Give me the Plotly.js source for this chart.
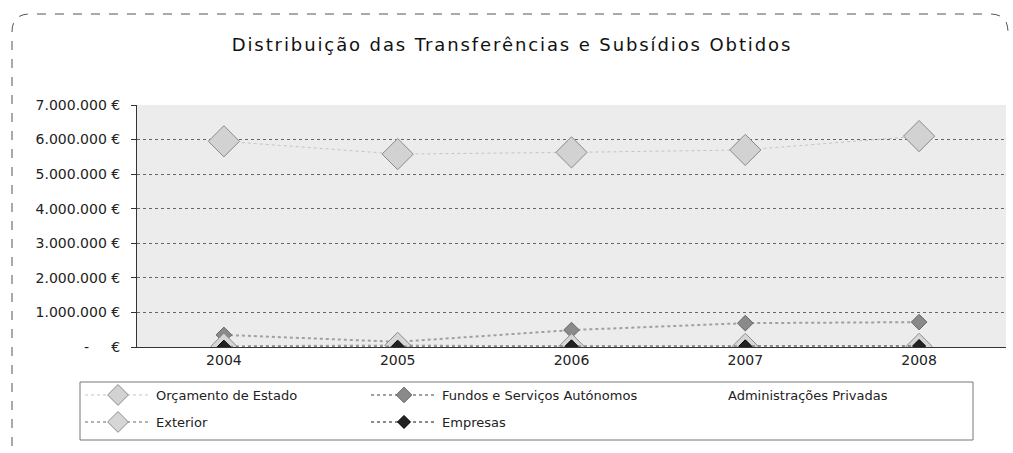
<!DOCTYPE html>
<html>
<head>
<meta charset="utf-8">
<script src="https://cdn.plot.ly/plotly-3.0.1.min.js"></script>
<style>
  html, body { margin: 0; padding: 0; background: #fff; }
  #graph { width: 1013px; height: 453px; }
</style>
</head>
<body>
<div id="graph"></div>
<script>
// anos (categorias do eixo x)
var anos = ['2004', '2005', '2006', '2007', '2008'];

// valores, em euros
var orcamentoEstado = [5950000, 5580000, 5630000, 5700000, 6100000];
var fundosAutonomos = [350000, 150000, 490000, 690000, 720000];
var adminPrivadas = [0, 0, 0, 0, 0];
var exterior = [20000, 50000, 10000, 20000, 20000];
var empresas = [10000, 10000, 20000, 20000, 30000];

// eixo y
var yTicks = [0, 1000000, 2000000, 3000000, 4000000, 5000000, 6000000, 7000000];
var yTickText = ['-     €', '1.000.000 €', '2.000.000 €', '3.000.000 €', '4.000.000 €',
                 '5.000.000 €', '6.000.000 €', '7.000.000 €'];

function drawGraph() {
    var W = 1013, H = 453;
    var L = 137, R = 7, T = 105, B = 106;
    var pw = W - L - R, ph = H - T - B;

    // pixel -> paper
    function px(x) { return (x - L) / pw; }
    function py(y) { return (H - B - y) / ph; }

    var traces = [
        {
            x: anos, y: orcamentoEstado, name: 'Orçamento de Estado',
            type: 'scatter', mode: 'lines+markers', legend: 'legend',
            line: { color: '#c4c4c4', width: 1, dash: 'dot' },
            marker: { symbol: 'diamond', size: 24, color: '#d2d2d2',
                      line: { color: '#8a8a8a', width: 1 } }
        },
        {
            x: anos, y: fundosAutonomos, name: 'Fundos e Serviços Autónomos',
            type: 'scatter', mode: 'lines+markers', legend: 'legend',
            line: { color: '#a0a0a0', width: 2, dash: 'dot' },
            marker: { symbol: 'diamond', size: 12, color: '#8a8a8a',
                      line: { color: '#666', width: 1 } }
        },
        {
            x: anos, y: adminPrivadas, name: 'Administrações Privadas',
            type: 'scatter', mode: 'lines', legend: 'legend',
            line: { color: '#ffffff', width: 2 }
        },
        {
            x: anos, y: exterior, name: 'Exterior',
            type: 'scatter', mode: 'lines+markers', legend: 'legend2',
            line: { color: '#b4b4b4', width: 2, dash: 'dot' },
            marker: { symbol: 'diamond', size: 20, color: '#d6d6d6',
                      line: { color: '#8c8c8c', width: 1 } }
        },
        {
            x: anos, y: empresas, name: 'Empresas',
            type: 'scatter', mode: 'lines+markers', legend: 'legend2',
            line: { color: '#8a8a8a', width: 2, dash: 'dot' },
            marker: { symbol: 'diamond', size: 10, color: '#222',
                      line: { color: '#000', width: 1 } }
        }
    ];

    // moldura tracejada com cantos arredondados
    var r = 18;
    var fx0 = 12, fy0 = 14, fx1 = 1008, fy1 = 446;
    var framePath =
        'M ' + px(fx0) + ' ' + py(fy1) +
        ' L ' + px(fx0) + ' ' + py(fy0 + r) +
        ' Q ' + px(fx0) + ' ' + py(fy0) + ' ' + px(fx0 + r) + ' ' + py(fy0) +
        ' L ' + px(fx1 - r) + ' ' + py(fy0) +
        ' Q ' + px(fx1) + ' ' + py(fy0) + ' ' + px(fx1) + ' ' + py(fy0 + r);

    var legendBase = {
        orientation: 'h',
        xanchor: 'left', yanchor: 'middle',
        entrywidth: 205, entrywidthmode: 'pixels',
        borderwidth: 0, bgcolor: 'rgba(0,0,0,0)',
        font: { family: 'DejaVu Sans, sans-serif', size: 13, color: '#222' },
        itemwidth: 66, itemsizing: 'trace'
    };

    var layout = {
        width: W, height: H,
        margin: { l: L, r: R, t: T, b: B, pad: 0 },
        paper_bgcolor: '#ffffff',
        plot_bgcolor: '#ececec',
        showlegend: true,
        font: { family: 'DejaVu Sans, sans-serif', size: 13, color: '#222' },
        title: {
            text: '<span style="letter-spacing:1.9px">Distribuição das Transferências e Subsídios Obtidos</span>',
            font: { family: 'DejaVu Sans, sans-serif', size: 18, color: '#111' },
            x: 512 / W, xref: 'container', xanchor: 'center',
            y: 1 - 45 / H, yref: 'container', yanchor: 'middle'
        },
        xaxis: {
            type: 'category',
            range: [-0.5, 4.5],
            showgrid: false,
            showline: true, linecolor: '#333', linewidth: 1,
            ticks: '', tickfont: { size: 14, color: '#222' },
            layer: 'below traces',
            fixedrange: true
        },
        yaxis: {
            range: [0, 7000000],
            tickvals: yTicks, ticktext: yTickText,
            showgrid: true, gridcolor: '#666', gridwidth: 1, griddash: 'dot',
            zeroline: false,
            showline: true, linecolor: '#333', linewidth: 1,
            ticks: 'outside', ticklen: 5, tickcolor: '#333',
            tickfont: { size: 14, color: '#222' },
            ticklabelstandoff: 8,
            fixedrange: true
        },
        legend: Object.assign({}, legendBase, { x: px(80), y: py(395) }),
        legend2: Object.assign({}, legendBase, { x: px(80), y: py(422) }),
        shapes: [
            {
                type: 'path', xref: 'paper', yref: 'paper',
                path: framePath,
                line: { color: '#555', width: 1, dash: 'dash' }
            },
            {
                type: 'rect', xref: 'paper', yref: 'paper',
                x0: px(80), x1: px(973), y0: py(382), y1: py(440),
                line: { color: '#777', width: 1 }
            }
        ]
    };

    Plotly.newPlot('graph', traces, layout, { displayModeBar: false, staticPlot: true });
}

drawGraph();
</script>
</body>
</html>
